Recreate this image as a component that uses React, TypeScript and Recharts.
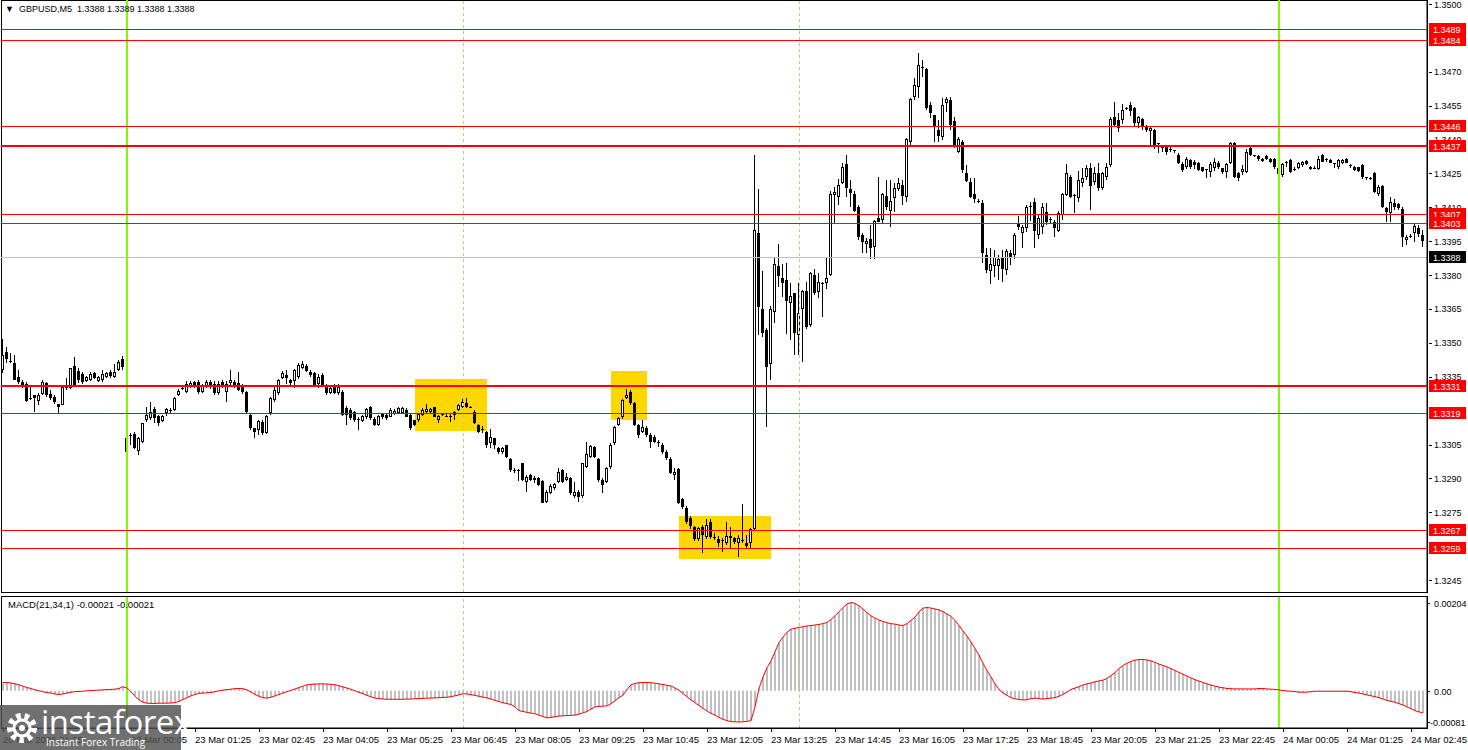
import React from "react";
import { Bar, ComposedChart, Line, ReferenceArea, ReferenceLine, XAxis, YAxis } from "recharts";

// GBPUSD M5 candles, pips above 1.3000: [open, high, low, close]
const fridayBars = [
  [338, 351.6, 336.5, 344.5], [346.1, 348.3, 341, 342.7], [342, 345.7, 341, 342], [341.2, 344.6, 333.6, 333.6],
  [335, 338, 331.7, 332.8], [332.8, 333.6, 329.9, 331.4], [331.7, 332.8, 324, 324.2], [325.5, 331, 324.7, 325.5],
  [326.9, 327, 319.5, 325.5], [324.4, 327.7, 322.5, 326.9], [327.4, 333.6, 326.9, 332.8], [332.1, 332.8, 326.2, 326.9],
  [327.2, 329.1, 324.7, 325.5], [326, 327, 323, 324], [323, 323, 318.6, 321.5], [322.5, 331, 322.5, 330.6],
  [331, 334.5, 329, 330], [330, 339, 329.4, 338.7], [339.8, 343.9, 331.3, 331.3], [337.5, 338.7, 332.1, 333.6],
  [336.2, 337, 332, 332.8], [333, 335.5, 332.5, 335], [333.5, 337, 333, 336.3], [336.5, 337, 334, 334.3],
  [333.3, 335.5, 332.8, 335], [333.6, 338, 332.8, 336], [335, 337, 334.5, 336.5], [336.9, 338, 334.3, 335.2],
  [334.9, 340.7, 334.3, 337.3], [338, 342.4, 337.4, 341.7], [342.7, 344.1, 338, 339.5],
];

const asiaBars = [
  [301.8, 308.4, 298.1, 307.7], [309.4, 310, 304.8, 308.7], [309.7, 310.4, 302.8, 303.3], [302.3, 308.5, 300.4, 307.7],
  [306.3, 314.7, 305.5, 314.4], [315.8, 321.7, 315, 318], [316.7, 323.8, 316, 319.2], [320.6, 321.8, 314.4, 316.6],
  [317.6, 318, 313.2, 314.4], [315.5, 318, 315, 317.6], [318.8, 321, 317.6, 320.6], [320.3, 321, 319, 320.3],
  [320.3, 326, 319.8, 325.5], [326.9, 329.5, 326.5, 328.7], [329.5, 331.5, 329, 330], [328.4, 333, 328, 331.6],
  [330.7, 333, 330, 332.2], [332.5, 333, 330, 331], [332.8, 333.6, 327.5, 328.2], [328.4, 332, 328, 331.4],
  [330.6, 333.6, 330, 332.8], [332.8, 333.5, 329.5, 330.5], [332, 333, 327, 327.6], [327.6, 333, 327, 332],
  [332.8, 333.5, 330, 330.6], [328.4, 333, 324, 332], [332.4, 338, 331, 333.6], [332.8, 333.5, 330, 331.4],
  [332.1, 337, 328.5, 329.1], [331.4, 332, 327.5, 328.4], [328.4, 328.5, 319, 319.5], [318, 318.5, 311.4, 312.1],
  [312.1, 312.5, 307.7, 310.6], [311.4, 315.8, 309.2, 315.5], [315, 316, 309, 309.9], [310.2, 318, 309.5, 317.6],
  [318.8, 326, 318, 325.4], [324.7, 331, 324, 329.1], [327.6, 334, 327, 333.5], [334.3, 337.5, 334, 336.5],
  [335.7, 338, 332, 334.3], [333.5, 334, 331.5, 332.3], [333, 338.5, 329.8, 337.9], [335, 341, 334, 340.2],
  [339, 342, 338.5, 340.6], [339.7, 340.5, 337, 337.7], [337.2, 338, 335, 335.7], [336.5, 337, 331, 331.3],
  [332, 336, 330, 335], [335.7, 336.5, 330.6, 331.3], [331.3, 332, 327, 327.6], [327.9, 330.5, 327.5, 329.8],
  [330.5, 332, 327.5, 327.9], [327.6, 332, 327, 330.5], [328.4, 329, 317.5, 318], [321, 322, 313.6, 318],
  [320.3, 321, 316, 316.6], [319.5, 320, 315, 315.8], [316.5, 317, 311.4, 315.8], [315.5, 318, 315, 317.6],
  [317.3, 321, 316.5, 320.5], [321.4, 322, 316, 316.6], [316.5, 317, 313, 313.6], [313.6, 318, 313, 317.6],
  [318.5, 319, 316.5, 317.3], [318, 318.5, 316, 316.6], [317.3, 321, 317, 320.3], [318.5, 320.5, 318, 320],
  [318.8, 321.5, 318.5, 321], [319, 321.5, 318.5, 321], [320.3, 321, 317, 317.3], [318, 318.5, 311.5, 312.1],
  [315.8, 316, 313, 313.6], [315.8, 319, 315, 318.5], [318, 321, 317.5, 320.3], [319.5, 322.9, 319, 320.6],
  [319.5, 321, 319, 320.5], [321.4, 321.8, 317, 317.3], [315.8, 318, 314.4, 317.6], [318.5, 319, 317.5, 318],
  [317.8, 318.3, 317.3, 317.8], [317.8, 318.3, 315, 317.8], [318, 320, 316, 319.5], [320.3, 323, 320, 322.5],
];

const europeBars = [
  [321.7, 325, 321, 323.9], [323.2, 325.4, 321, 321.7], [321.4, 322, 321, 321.4], [319.5, 320.3, 314, 314.4],
  [313.6, 314, 310, 310.7], [312, 313, 310, 311.7], [310.7, 311, 303.3, 304.8], [305.5, 311.7, 303.3, 308.5],
  [307.7, 308, 303, 304.8], [303.3, 304, 301, 301.8], [301.8, 304, 301, 303.3], [304.8, 305, 299, 299.6],
  [298.5, 299, 293, 293.7], [293.7, 294.5, 292.5, 293.7], [293.5, 294, 289, 293.5], [296.7, 297, 289, 289.3],
  [288.6, 291.5, 284.1, 290.8], [291.5, 292, 289, 289.3], [290, 291, 288, 289.5], [290, 290.5, 286.5, 287],
  [288.9, 289.5, 279, 279.3], [279.7, 285, 279, 284.1], [283.4, 287.5, 283, 286.7], [285.6, 288, 285, 287.5],
  [288.6, 294.5, 288, 293], [293.7, 294, 288, 288.6], [289.3, 292.5, 289, 290.8], [290, 290.5, 282.5, 283.4],
  [282.3, 288.6, 281.2, 284.1], [284.1, 285, 279.7, 281.9], [282.2, 297, 281.5, 296.7], [295.2, 306.3, 294.5, 300.8],
  [299.4, 305, 299, 304.4], [303.8, 304.5, 299, 299.4], [298.5, 299, 288.5, 289.3], [289.3, 290, 283.4, 287.1],
  [288.6, 295, 288, 294.5], [295.2, 305.5, 294, 304.8], [305.5, 313, 305, 312.6], [313.7, 317, 313, 316.6],
  [317.3, 325, 316.5, 324.7], [325.5, 329.4, 325, 326.9], [328.4, 329, 322.5, 323.2], [323.2, 324, 313, 313.7],
  [313.7, 314, 307.7, 309.2], [310.7, 315.9, 310, 312.9], [312.2, 313, 308.5, 309.2], [309.2, 310, 303.3, 306.3],
  [308.5, 309, 305.5, 306.3], [306.3, 307, 304, 306.3], [304.8, 305.5, 301, 301.8], [301.8, 302.5, 298, 298.9],
  [298.4, 299.5, 292, 292.5], [291.5, 294.5, 289.5, 293], [294, 294.5, 278.5, 279.3], [280.7, 281.5, 276.5, 277.5],
  [276.7, 278, 270, 270.8], [272.6, 273.5, 267.5, 268.9], [268.3, 269, 262.5, 263], [263, 268.5, 262.3, 267.9],
  [268.3, 269.5, 257.1, 265], [264.2, 272, 263, 269.4], [270.8, 272, 263, 264.2], [264, 265.7, 262.7, 263.5],
  [263, 264.5, 259.6, 261.3], [262.7, 263.5, 257.6, 262.7], [261.3, 270.8, 260.5, 264.5], [263.5, 268.6, 259, 264.5],
  [263.5, 264, 261, 262], [261.3, 265, 255.4, 263.5], [262.7, 278.7, 261.3, 262.7], [261.3, 264.9, 259.1, 260.1],
  [261.3, 267.9, 259.1, 267.4],
];

const usBars = [
  [267.4, 433.2, 267, 400], [398.8, 418, 353.5, 365.7], [365, 381.8, 352.7, 354.5], [355.7, 356.4, 312.6, 339.5],
  [340.5, 366.3, 333.6, 364.8], [363.5, 387.9, 358.6, 384.8], [384, 393.6, 374.9, 379.6], [378.9, 384.9, 370.5, 376.6],
  [377.8, 385.2, 353.8, 368.7], [367.5, 376.3, 351.3, 370.7], [371.9, 372.2, 344.6, 354.5], [353.6, 376.3, 344.6, 363.4],
  [364.8, 373.4, 341.7, 373], [373, 377, 356, 357], [357.9, 381.5, 357, 380.8], [380, 382.5, 371.2, 371.9],
  [372.7, 380.8, 369.7, 377.1], [376.3, 377, 361.6, 376.3], [376.6, 387.9, 373.7, 378.6], [380, 417, 379.6, 415.9],
  [415.5, 419.1, 402.9, 416.9], [414.7, 422.4, 411, 419.9], [420.9, 429.8, 420.3, 427.7], [429.2, 433.2, 414.7, 418.7],
  [418, 422.1, 410.3, 416.5], [415.9, 417, 408.1, 408.5], [410.3, 411, 395.5, 396.7], [397.7, 398.5, 389.6, 394.8],
  [393.8, 396.3, 389.6, 395.3], [395.8, 402.2, 387, 391.8], [392.6, 404.5, 387, 404], [405.1, 423.3, 403.6, 403.6],
  [404.4, 416.2, 402.9, 415.9], [415, 422.1, 408.8, 410.3], [408.5, 422.1, 401.4, 412.8], [414, 420.9, 408.1, 418.4],
  [418, 423, 417, 420.9], [419.9, 422.1, 411, 415], [414.7, 440.6, 412.5, 440.1], [438.7, 458.3, 437.6, 457.8],
  [459, 467.1, 457.5, 464.2], [463.1, 478.2, 458.3, 473], [472.3, 475.2, 467.6, 472.3], [471.1, 471.5, 453, 453.9],
  [455.3, 456.8, 449.4, 451.9], [450.9, 451, 439.1, 445.7], [444.3, 448.7, 439.1, 441.6], [441, 458.3, 439.8, 455.3],
  [456.1, 458.7, 452.4, 457.8], [457.5, 458.7, 444.3, 446.5], [448, 449.9, 436.1, 436.9], [434.7, 441.3, 433.9, 440.1],
  [439.1, 439.8, 425.4, 426.3], [425.4, 428.8, 421.4, 421.8], [421.4, 422.9, 414, 414.7], [415.9, 422.9, 411.8, 413.6],
  [413, 413.5, 412, 413], [411.8, 413.3, 385.5, 389.7], [388.9, 391.9, 380.8, 382.3], [381.6, 391.9, 376.1, 384.9],
  [383.8, 391, 379, 387.9], [384, 389, 378, 387], [387.5, 391, 377, 382.6], [382.3, 391.5, 380, 390.8],
  [389.7, 391, 384.5, 387.9], [388.9, 398.5, 387, 397.8], [403.2, 406, 400, 401.5], [398.8, 402, 391.9, 401.5],
  [400.8, 411, 399, 410], [410.8, 412.5, 404, 410.8], [412.5, 414, 391.9, 399.7], [397.8, 407, 396, 405.2],
  [401.2, 412, 398, 410.3], [408.1, 411.8, 402, 403.7],
];

const lateBars = [
  [404.7, 405.5, 403, 404.7], [403.7, 404.4, 396.9, 400.7], [399.7, 408.5, 399, 407.7], [406.6, 416.5, 404.4, 415.9],
  [415.5, 429.2, 415, 425.1], [423.6, 424.4, 414, 414.7], [415.5, 415.9, 407.4, 415.5], [414, 426, 412.5, 422.1],
  [420.9, 427.2, 419, 422.9], [423.6, 428.8, 422, 427.3], [427.3, 429.4, 408.8, 419.5], [421, 428, 420, 425.4],
  [425.1, 429.8, 417, 418.4], [418.4, 425.5, 417.5, 425.1], [423.6, 429.8, 422, 427.7], [428.8, 449.9, 428, 449],
  [449.9, 456.5, 446, 446.5], [448.7, 451.9, 443.5, 445], [448.7, 455.7, 447, 453.1], [453.9, 454.5, 453, 453.9],
  [455.3, 456.8, 450.4, 452.8], [453.9, 454.5, 446, 447.2], [447.2, 450.5, 445, 449.9], [448.9, 449.4, 444.2, 445.4],
  [445.7, 446.5, 443.2, 444.2], [444, 445.9, 437.6, 445], [444.2, 444.5, 436, 437.6], [438.3, 438.5, 433.9, 438.3],
  [436.5, 437.5, 434.6, 436.5], [436.5, 437.6, 433.1, 434.6], [436, 437.5, 434.5, 436], [435.3, 435.5, 433.9, 435.3],
  [433.1, 434, 429, 429.7], [429.1, 430, 425.5, 426.5], [427.7, 432.3, 427, 431.6], [430.9, 431.6, 427, 427.7],
  [430.2, 431, 427, 428.7], [429.7, 430, 426, 426.5], [427.7, 428, 425.5, 426.2], [426.8, 427, 422.8, 426.8],
  [425.8, 430.2, 423.5, 429.1], [427.2, 432, 426, 430.2], [429.7, 430.5, 427, 427.7], [427.2, 427.5, 424.8, 425.7],
  [425.7, 429.5, 422.8, 429.1], [429.7, 439, 429, 438.6], [438.3, 438.8, 423, 423.5], [425, 425.7, 421.8, 422.8],
  [425.7, 428.7, 424.2, 426.8], [425.7, 436, 425.3, 434.6], [436.1, 436.5, 432.5, 433.1], [433.1, 433.3, 432.3, 433.1],
  [432.7, 433, 430.5, 431.2], [430.6, 432, 430, 431.6], [432.7, 433, 431, 431.6], [431.6, 432, 429.5, 430.2],
  [431.6, 432, 427, 427.7], [427.2, 427.5, 424, 424.7], [424.3, 429.5, 423.2, 429.1], [430.2, 430.5, 428, 430.2],
  [430.9, 431.2, 425, 425.7], [426.8, 427.7, 426, 426.8], [427.2, 430.2, 426.8, 429.7], [428.7, 430.5, 428, 430.2],
  [430.6, 431, 428.7, 429.1], [428, 428.3, 426.5, 426.8], [427.5, 428.5, 426.8, 427.5], [426.8, 432.6, 426.5, 431.6],
  [433.1, 433.5, 430, 430.2], [431.6, 432, 430, 431.6], [430.9, 431.2, 429.5, 429.7], [429.4, 429.5, 427.5, 429.4],
  [427.7, 431.2, 427, 430.9], [429.4, 431.5, 429, 430.9], [431.6, 432, 429.5, 429.7], [428.7, 429, 427.2, 428.7],
  [428, 428.3, 426, 426.5], [427.7, 428, 425.5, 426.2], [428.7, 429, 422.5, 423.2], [423.2, 423.5, 422.3, 423.2],
  [423, 423.2, 422.3, 423], [425, 425.5, 416.5, 416.9], [415.9, 419.7, 415, 419.1], [419.4, 419.8, 409.5, 410],
  [409.5, 410.3, 403.6, 408.1], [407.3, 414.4, 403.6, 412.5], [411.8, 413.9, 408.8, 410], [411.4, 412, 409, 409.5],
  [409.1, 410.3, 392.5, 396.7], [395.5, 397.7, 393.3, 397], [397.3, 398.4, 396.2, 397.3], [398.7, 402.9, 394.8, 401.7],
  [400.7, 402.2, 396.9, 398.4], [397.7, 400, 392.5, 395],
];

// MACD(21,34,1), units of 0.00001
const macdFriday = [18, 18, 17, 15, 13, 10, 7, 5, 2, 0, -2, -4, -5, -7, -8, -7, -5, -3, -2, -1.5, -1, 0, 0.5, 1, 1.5, 2, 2.5, 3, 3.5, 5, 9];
const macdAsia = [
  6, -2, -12, -20, -25, -27, -27.5, -27.5, -27, -27, -27, -26.5, -26, -23, -19, -15, -11, -8, -5.5, -5,
  -4.5, -3.5, -2, 0, 1.5, 2.5, 3.5, 4.5, 5, 4.5, 2, -3, -8, -12, -15, -16, -14, -11, -8, -5,
  -2, 1, 4, 7, 10, 13, 14, 14.5, 15, 15, 14.5, 14, 13, 11, 8.5, 6, 3, 0, -3.5, -6.5,
  -10, -13, -16, -17, -18, -18.5, -18.5, -18.6, -18.5, -18.5, -18, -18, -17.5, -17, -16.5, -16, -16, -15.5, -15, -14.5,
  -14, -13, -11, -9,
];
const macdEurope = [
  -6.5, -7, -8.5, -10, -12, -14, -15.5, -18, -21, -23.5, -26, -28, -30, -35, -43, -45, -47, -48.5, -50, -53,
  -56, -59, -58, -56.5, -55, -54.5, -54, -53.5, -53, -51, -48, -45, -40, -35, -34, -33.5, -33, -28, -22, -15,
  -10, 3, 13, 16, 17.5, 18, 18, 17.5, 16.5, 15, 13.5, 12, 10.5, 6, 1, -6, -13, -20, -26, -32,
  -38, -44, -49, -53, -58, -62, -65, -67, -67.5, -68, -67.5, -66.5, -65,
];
const macdUs = [
  -35, 5, 30, 50, 65, 85, 105, 117, 127, 134, 136, 138, 139, 141, 142, 143, 144.5, 146, 148.5, 155,
  163, 172, 181, 189, 192, 190, 185, 178, 170, 163, 158, 154, 151, 148, 146, 145, 143, 142, 146, 153,
  160, 172, 180, 181, 180, 178, 176, 172, 167, 162, 153, 142, 130, 119, 106, 92, 78, 60, 44, 30,
  15, 3, -5, -10, -15, -17.5, -19, -20, -19.5, -17, -16, -17, -18, -17,
];
const macdLate = [
  -16, -15, -12, -8, -3, 3, 6, 9, 12.5, 15, 17, 19.5, 21.5, 23, 27, 33, 40, 48, 55, 60,
  64, 66.5, 68, 68, 67, 65, 62, 58, 55, 52, 48, 44, 40, 36, 32, 28, 24, 21, 18, 15,
  12.5, 10, 8, 6.5, 5, 4.5, 4, 4, 4, 4, 4, 4, 5, 5, 4, 3.5, 3, 2, 0.5, -0.5,
  -1, -2, -3, -3, -3, -2, -1, -1, -1, -1, -1, -1, -1, -1, -1, -2, -4, -5, -7, -9,
  -11, -13, -15, -18, -21, -23, -25, -28, -31, -35, -39, -43, -46, -48,
];

const FIRST_BAR = -31; // bar 0 = 23 Mar 00:00

const priceTicks = [1.3245, 1.326, 1.3275, 1.329, 1.3305, 1.332, 1.3335, 1.335, 1.3365, 1.338, 1.3395, 1.341, 1.3425, 1.344, 1.3455, 1.347, 1.3485, 1.35];
const levels = [1.3489, 1.3484, 1.3446, 1.3437, 1.3407, 1.3403, 1.3331, 1.3319, 1.3267, 1.3259];
const thickLevels = [1.3437, 1.3331];
const lastPrice = 1.3388;

const zoneFrom = [72, 121, 138];
const zoneTo = [90, 130, 161];
const zoneLow = [1.33107, 1.33158, 1.32542];
const zoneHigh = [1.33339, 1.33375, 1.32734];

const dayStarts = [0, 288];
const dashedBars = [84, 168];

const timeTickBars = [-31, 1, 17, 33, 49, 65, 81, 97, 113, 129, 145, 161, 177, 193, 209, 225, 241, 257, 273, 289, 305, 321];
const timeTickText = [
  "20 Mar 2026 21:25", "23 Mar 00:05", "23 Mar 01:25", "23 Mar 02:45", "23 Mar 04:05", "23 Mar 05:25", "23 Mar 06:45",
  "23 Mar 08:05", "23 Mar 09:25", "23 Mar 10:45", "23 Mar 12:05", "23 Mar 13:25", "23 Mar 14:45", "23 Mar 16:05",
  "23 Mar 17:25", "23 Mar 18:45", "23 Mar 20:05", "23 Mar 21:25", "23 Mar 22:45", "24 Mar 00:05", "24 Mar 01:25",
  "24 Mar 02:45",
];

const macdTicks = [-0.00081, 0, 0.00204];
const macdTickText = ["-0.00081", "0.00", "0.00204"];

const FONT = "'Liberation Sans', Arial, sans-serif";
const PRICE_DOMAIN = [1.323971, 1.350177];

const bars = [...fridayBars, ...asiaBars, ...europeBars, ...usBars, ...lateBars];
const macd = [...macdFriday, ...macdAsia, ...macdEurope, ...macdUs, ...macdLate];
const toPrice = (v: number) => 1.3 + v / 10000;
const data = bars.map(([o, h, l, c], k) => ({
  i: FIRST_BAR + k,
  o: toPrice(o),
  h: toPrice(h),
  l: toPrice(l),
  c: toPrice(c),
  range: [toPrice(l), toPrice(h)],
  macd: macd[k] / 100000,
}));

function Candle(props: any) {
  const { x, y, width, height, payload } = props;
  if (!payload || x == null) return null;
  const { o, h, l, c } = payload;
  const top0 = height >= 0 ? y : y + height;
  const hh = Math.abs(height);
  const left = Math.round(x + width / 2) - 2;
  const k = h - l > 0 ? hh / (h - l) : 0;
  const py = (p: number) => Math.round(top0 + (h - p) * k);
  const wTop = py(h);
  const wBot = Math.max(py(l), wTop + 1);
  const top = py(Math.max(o, c));
  const bot = py(Math.min(o, c));
  let body;
  if (bot - top <= 1) body = <rect x={left} y={top} width={3} height={1} fill="#000" />;
  else if (c >= o) body = <rect x={left + 0.5} y={top + 0.5} width={2} height={bot - top - 1} fill="#fff" stroke="#000" strokeWidth={1} />;
  else body = <rect x={left} y={top} width={3} height={bot - top} fill="#000" />;
  return (
    <g>
      <line x1={left + 1.5} x2={left + 1.5} y1={wTop} y2={wBot} stroke="#000" strokeWidth={1} />
      {body}
    </g>
  );
}

const hLine = (w: number, tag?: { fill: string; text: string }) => (p: any) => {
  const y = Math.round(p.y1) + (w % 2 ? 0.5 : 0);
  const yc = Math.round(p.y1);
  const right = Math.max(p.x1, p.x2);
  const left = Math.min(p.x1, p.x2);
  return (
    <g>
      <line x1={left} x2={right} y1={y} y2={y} stroke={p.stroke} strokeWidth={w} />
      {tag && (
        <g>
          <rect x={right + 2} y={yc - 6} width={37} height={12} fill={tag.fill} />
          <text x={right + 6} y={yc + 3.5} fontSize={9} fontFamily={FONT} fill="#fff">{tag.text}</text>
        </g>
      )}
    </g>
  );
};

const vLine = (w: number, dash?: string) => (p: any) => {
  const x = Math.round(p.x1) + (w % 2 ? 0.5 : 0);
  return <line x1={x} x2={x} y1={p.y1} y2={p.y2} stroke={p.stroke} strokeWidth={w} strokeDasharray={dash} />;
};

const zoneShape = (p: any) => (
  <rect x={p.x + 2} y={Math.round(p.y)} width={p.width - 4} height={Math.round(p.height)} fill="#FFD700" />
);

function PriceTick(props: any) {
  const { x, y, payload } = props;
  return (
    <g>
      <line x1={x + 2} x2={x + 5} y1={Math.round(y) + 0.5} y2={Math.round(y) + 0.5} stroke="#000" />
      <text x={x + 7} y={y + 3.5} fontSize={9} fontFamily={FONT} fill="#000">{payload.value.toFixed(4)}</text>
    </g>
  );
}

function MacdTick(props: any) {
  const { x, y, payload } = props;
  const idx = macdTicks.indexOf(payload.value);
  const shift = payload.value > 0 ? 6 : payload.value < 0 ? -6 : 0;
  const ty = Math.round(y) + shift;
  const tx = payload.value < 0 ? x + 3 : x + 7;
  return (
    <g>
      <line x1={x + 1} x2={x + 3} y1={ty + 0.5} y2={ty + 0.5} stroke="#000" />
      <text x={tx} y={ty + 3.5} fontSize={9} fontFamily={FONT} fill="#000">{macdTickText[idx]}</text>
    </g>
  );
}

function TimeTick(props: any) {
  const { x, y, payload } = props;
  const idx = timeTickBars.indexOf(payload.value);
  const tx = Math.round(x) + 0.5;
  return (
    <g>
      <line x1={tx} x2={tx} y1={y} y2={y + 4} stroke="#000" />
      <text x={x} y={y + 15} fontSize={9.5} fontFamily={FONT} fill="#000">{timeTickText[idx]}</text>
    </g>
  );
}

function Gear() {
  return (
    <svg width={36} height={36} viewBox="0 0 36 36" style={{ position: "absolute", left: 4, top: 5 }}>
      <circle cx={18} cy={18} r={12} fill="none" stroke="#fff" strokeWidth={6} strokeDasharray="4.5 3.9" />
      <circle cx={18} cy={18} r={8} fill="none" stroke="#fff" strokeWidth={3} />
      <circle cx={18} cy={18} r={3} fill="#fff" />
    </svg>
  );
}

export default function App() {
  return (
    <div style={{ position: "absolute", left: 0, top: 0, width: 1468, height: 750, background: "#fff", fontFamily: FONT, overflow: "hidden" }}>
      {/* panel frames */}
      <div style={{ position: "absolute", left: 1, top: 0, width: 1427, height: 593, boxSizing: "border-box", border: "1px solid #000" }} />
      <div style={{ position: "absolute", left: 1, top: 596, width: 1427, height: 133, boxSizing: "border-box", border: "1px solid #000" }} />

      {/* price panel: background objects, axis and candles */}
      <div style={{ position: "absolute", left: 0, top: 0 }}>
        <ComposedChart width={1468} height={592} data={data} margin={{ top: 0, right: 0, bottom: 0, left: 1 }} barCategoryGap={0} barGap={0}>
          <XAxis dataKey="i" hide height={0} padding={{ left: 0, right: 2 }} />
          <YAxis
            orientation="right"
            width={41}
            domain={PRICE_DOMAIN}
            allowDataOverflow
            ticks={priceTicks}
            interval={0}
            tick={(p: any) => <PriceTick {...p} />}
            tickLine={false}
            tickSize={0}
            tickMargin={0}
            axisLine={{ stroke: "#000" }}
          />
          {zoneFrom.map((f, n) => (
            <ReferenceArea key={"z" + n} x1={f} x2={zoneTo[n]} y1={zoneLow[n]} y2={zoneHigh[n]} shape={zoneShape} />
          ))}
          {dashedBars.map((b) => (
            <ReferenceLine key={"d" + b} x={b} stroke="#9ee06a" shape={vLine(1, "3 3")} />
          ))}
          {dayStarts.map((b) => (
            <ReferenceLine key={"g" + b} x={b} stroke="#7CFC00" shape={vLine(2)} />
          ))}
          <ReferenceLine y={lastPrice} stroke="#c0c0c0" shape={hLine(1)} />
          <Bar dataKey="range" barSize={4} shape={(p: any) => <Candle {...p} />} isAnimationActive={false} />
        </ComposedChart>
      </div>

      {/* price panel: foreground levels and their axis tags */}
      <div style={{ position: "absolute", left: 0, top: 0, pointerEvents: "none" }}>
        <ComposedChart width={1468} height={592} data={data} margin={{ top: 0, right: 0, bottom: 0, left: 1 }} barCategoryGap={0} barGap={0}>
          <XAxis dataKey="i" hide height={0} padding={{ left: 0, right: 2 }} />
          <YAxis orientation="right" width={41} domain={PRICE_DOMAIN} allowDataOverflow tick={false} tickLine={false} axisLine={false} />
          <ReferenceLine y={lastPrice} stroke="transparent" shape={hLine(1, { fill: "#000", text: lastPrice.toFixed(4) })} />
          {levels.map((lv) => (
            <ReferenceLine
              key={"l" + lv}
              y={lv}
              stroke="#ff0000"
              shape={hLine(thickLevels.includes(lv) ? 2 : 1, { fill: "#ff0000", text: lv.toFixed(4) })}
            />
          ))}
        </ComposedChart>
      </div>

      {/* MACD panel */}
      <div style={{ position: "absolute", left: 0, top: 597 }}>
        <ComposedChart width={1468} height={153} data={data} margin={{ top: 0, right: 0, bottom: 0, left: 1 }} barCategoryGap={0} barGap={0}>
          <XAxis
            dataKey="i"
            height={22}
            padding={{ left: 0, right: 2 }}
            ticks={timeTickBars}
            interval={0}
            tick={(p: any) => <TimeTick {...p} />}
            tickLine={false}
            tickSize={0}
            tickMargin={0}
            axisLine={{ stroke: "#000" }}
          />
          <YAxis
            orientation="right"
            width={41}
            domain={[-0.00081, 0.00204]}
            allowDataOverflow
            ticks={macdTicks}
            interval={0}
            tick={(p: any) => <MacdTick {...p} />}
            tickLine={false}
            tickSize={0}
            tickMargin={0}
            axisLine={{ stroke: "#000" }}
          />
          {dashedBars.map((b) => (
            <ReferenceLine key={"md" + b} x={b} stroke="#9ee06a" shape={vLine(1, "3 3")} />
          ))}
          {dayStarts.map((b) => (
            <ReferenceLine key={"mg" + b} x={b} stroke="#7CFC00" shape={vLine(2)} />
          ))}
          <Bar dataKey="macd" barSize={2} fill="#c0c0c0" isAnimationActive={false} />
          <Line dataKey="macd" type="linear" stroke="#ff0000" strokeWidth={1} dot={false} activeDot={false} isAnimationActive={false} />
        </ComposedChart>
      </div>

      <div style={{ position: "absolute", left: 5, top: 4, fontSize: 9, lineHeight: "11px", color: "#000", whiteSpace: "pre" }}>
        {"▼  GBPUSD,M5  1.3388 1.3389 1.3388 1.3388"}
      </div>
      <div style={{ position: "absolute", left: 8, top: 599, fontSize: 9.5, lineHeight: "11px", color: "#000", whiteSpace: "pre" }}>
        {"MACD(21,34,1) -0.00021 -0.00021"}
      </div>

      <div style={{ position: "absolute", left: 0, top: 705, width: 181, height: 45, background: "rgba(80,80,80,0.82)" }}>
        <Gear />
        <div style={{ position: "absolute", left: 41, top: -3, fontSize: 33, lineHeight: "40px", color: "#fff", fontFamily: "'Open Sans', sans-serif", letterSpacing: -0.5 }}>
          instaforex
        </div>
        <div style={{ position: "absolute", left: 46, top: 31, fontSize: 10, lineHeight: "12px", color: "#fff", fontFamily: "'Open Sans', sans-serif" }}>
          Instant Forex Trading
        </div>
      </div>
    </div>
  );
}
